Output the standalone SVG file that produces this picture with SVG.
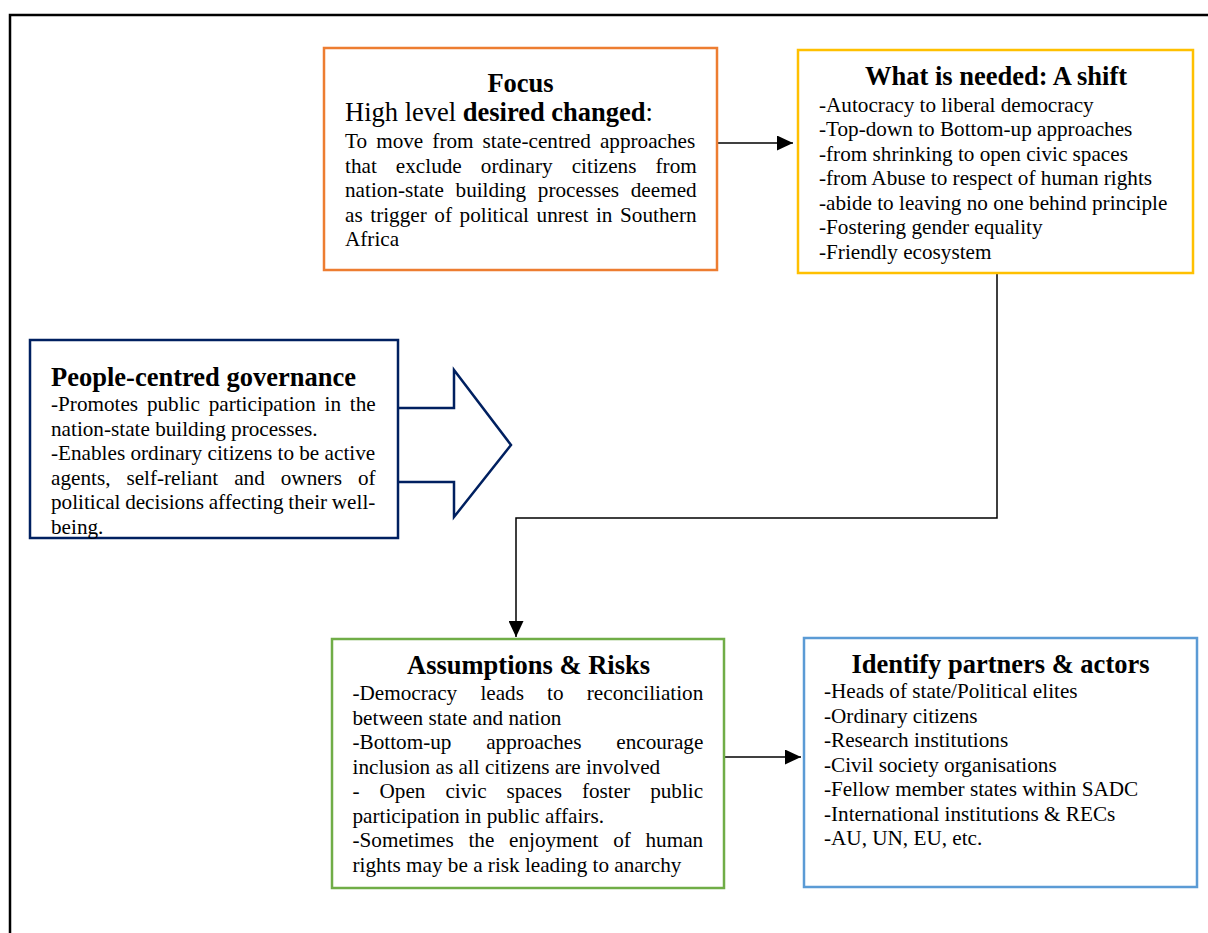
<svg xmlns="http://www.w3.org/2000/svg" width="1208" height="933" viewBox="0 0 1208 933">
<style>
text{font-family:"Liberation Serif","Times New Roman",serif;fill:#000}
.h{font-size:26.5px;font-weight:bold}
.b{font-size:21.2px}
.box{fill:#fff;stroke-width:2.5}
.con{fill:none;stroke:#000;stroke-width:1.5}
</style>
<defs>
<marker id="ah" markerUnits="userSpaceOnUse" markerWidth="16" markerHeight="15" refX="16" refY="7.5" orient="auto">
<path d="M0,0 L16,7.5 L0,15 z" fill="#000"/>
</marker>
</defs>
<rect x="0" y="0" width="1208" height="933" fill="#fff"/>
<rect x="10" y="15" width="1220" height="940" fill="none" stroke="#000" stroke-width="2.5"/>

<g id="connectors">
<line class="con" x1="717" y1="143" x2="793" y2="143" marker-end="url(#ah)"/>
<polyline class="con" points="997,273 997,518 516,518 516,637" marker-end="url(#ah)"/>
<line class="con" x1="724" y1="757" x2="801" y2="757" marker-end="url(#ah)"/>
</g>

<g id="focus">
<rect class="box" x="324" y="48" width="393" height="222" stroke="#ED7D31"/>
<text class="h" x="520.5" y="92" text-anchor="middle">Focus</text>
<text x="345" y="121" style="font-size:26.5px">High level <tspan font-weight="bold">desired changed</tspan>:</text>
<text class="b" x="345" y="148" word-spacing="3.8">To move from state-centred approaches</text>
<text class="b" x="345" y="172.5" word-spacing="13.8">that exclude ordinary citizens from</text>
<text class="b" x="345" y="197" word-spacing="6.4">nation-state building processes deemed</text>
<text class="b" x="345" y="221.5" word-spacing="2.3">as trigger of political unrest in Southern</text>
<text class="b" x="345" y="246">Africa</text>
</g>

<g id="shift">
<rect class="box" x="798" y="50" width="395" height="223" stroke="#FFC000"/>
<text class="h" x="996" y="85" text-anchor="middle">What is needed: A shift</text>
<text class="b" x="819" y="111.5">-Autocracy to liberal democracy</text>
<text class="b" x="819" y="136">-Top-down to Bottom-up approaches</text>
<text class="b" x="819" y="160.5">-from shrinking to open civic spaces</text>
<text class="b" x="819" y="185">-from Abuse to respect of human rights</text>
<text class="b" x="819" y="209.5">-abide to leaving no one behind principle</text>
<text class="b" x="819" y="234">-Fostering gender equality</text>
<text class="b" x="819" y="258.5">-Friendly ecosystem</text>
</g>

<g id="people">
<polyline points="398,408 454,408 454,370 511,445 454,517 454,482 398,482" fill="#fff" stroke="#002060" stroke-width="2.5"/>
<rect class="box" x="30" y="340" width="368" height="198" stroke="#002060"/>
<text class="h" x="51" y="386">People-centred governance</text>
<text class="b" x="51" y="411" word-spacing="3.5">-Promotes public participation in the</text>
<text class="b" x="51" y="435.5">nation-state building processes.</text>
<text class="b" x="51" y="460">-Enables ordinary citizens to be active</text>
<text class="b" x="51" y="484.5" word-spacing="10.7">agents, self-reliant and owners of</text>
<text class="b" x="51" y="509" word-spacing="-0.6">political decisions affecting their well-</text>
<text class="b" x="51" y="533.5">being.</text>
</g>

<g id="assumptions">
<rect class="box" x="332" y="639" width="392" height="249" stroke="#70AD47"/>
<text class="h" x="528.5" y="674" text-anchor="middle">Assumptions &amp; Risks</text>
<text class="b" x="352.5" y="700" word-spacing="17.9">-Democracy leads to reconciliation</text>
<text class="b" x="352.5" y="724.5">between state and nation</text>
<text class="b" x="352.5" y="749" word-spacing="29.5">-Bottom-up approaches encourage</text>
<text class="b" x="352.5" y="773.5">inclusion as all citizens are involved</text>
<text class="b" x="352.5" y="798" word-spacing="14.7">- Open civic spaces foster public</text>
<text class="b" x="352.5" y="822.5">participation in public affairs.</text>
<text class="b" x="352.5" y="847" word-spacing="9.4">-Sometimes the enjoyment of human</text>
<text class="b" x="352.5" y="871.5">rights may be a risk leading to anarchy</text>
</g>

<g id="partners">
<rect class="box" x="804" y="638" width="393" height="249" stroke="#5B9BD5"/>
<text class="h" x="1000.5" y="672.5" text-anchor="middle">Identify partners &amp; actors</text>
<text class="b" x="824" y="698">-Heads of state/Political elites</text>
<text class="b" x="824" y="722.5">-Ordinary citizens</text>
<text class="b" x="824" y="747">-Research institutions</text>
<text class="b" x="824" y="771.5">-Civil society organisations</text>
<text class="b" x="824" y="796">-Fellow member states within SADC</text>
<text class="b" x="824" y="820.5">-International institutions &amp; RECs</text>
<text class="b" x="824" y="845">-AU, UN, EU, etc.</text>
</g>
</svg>
